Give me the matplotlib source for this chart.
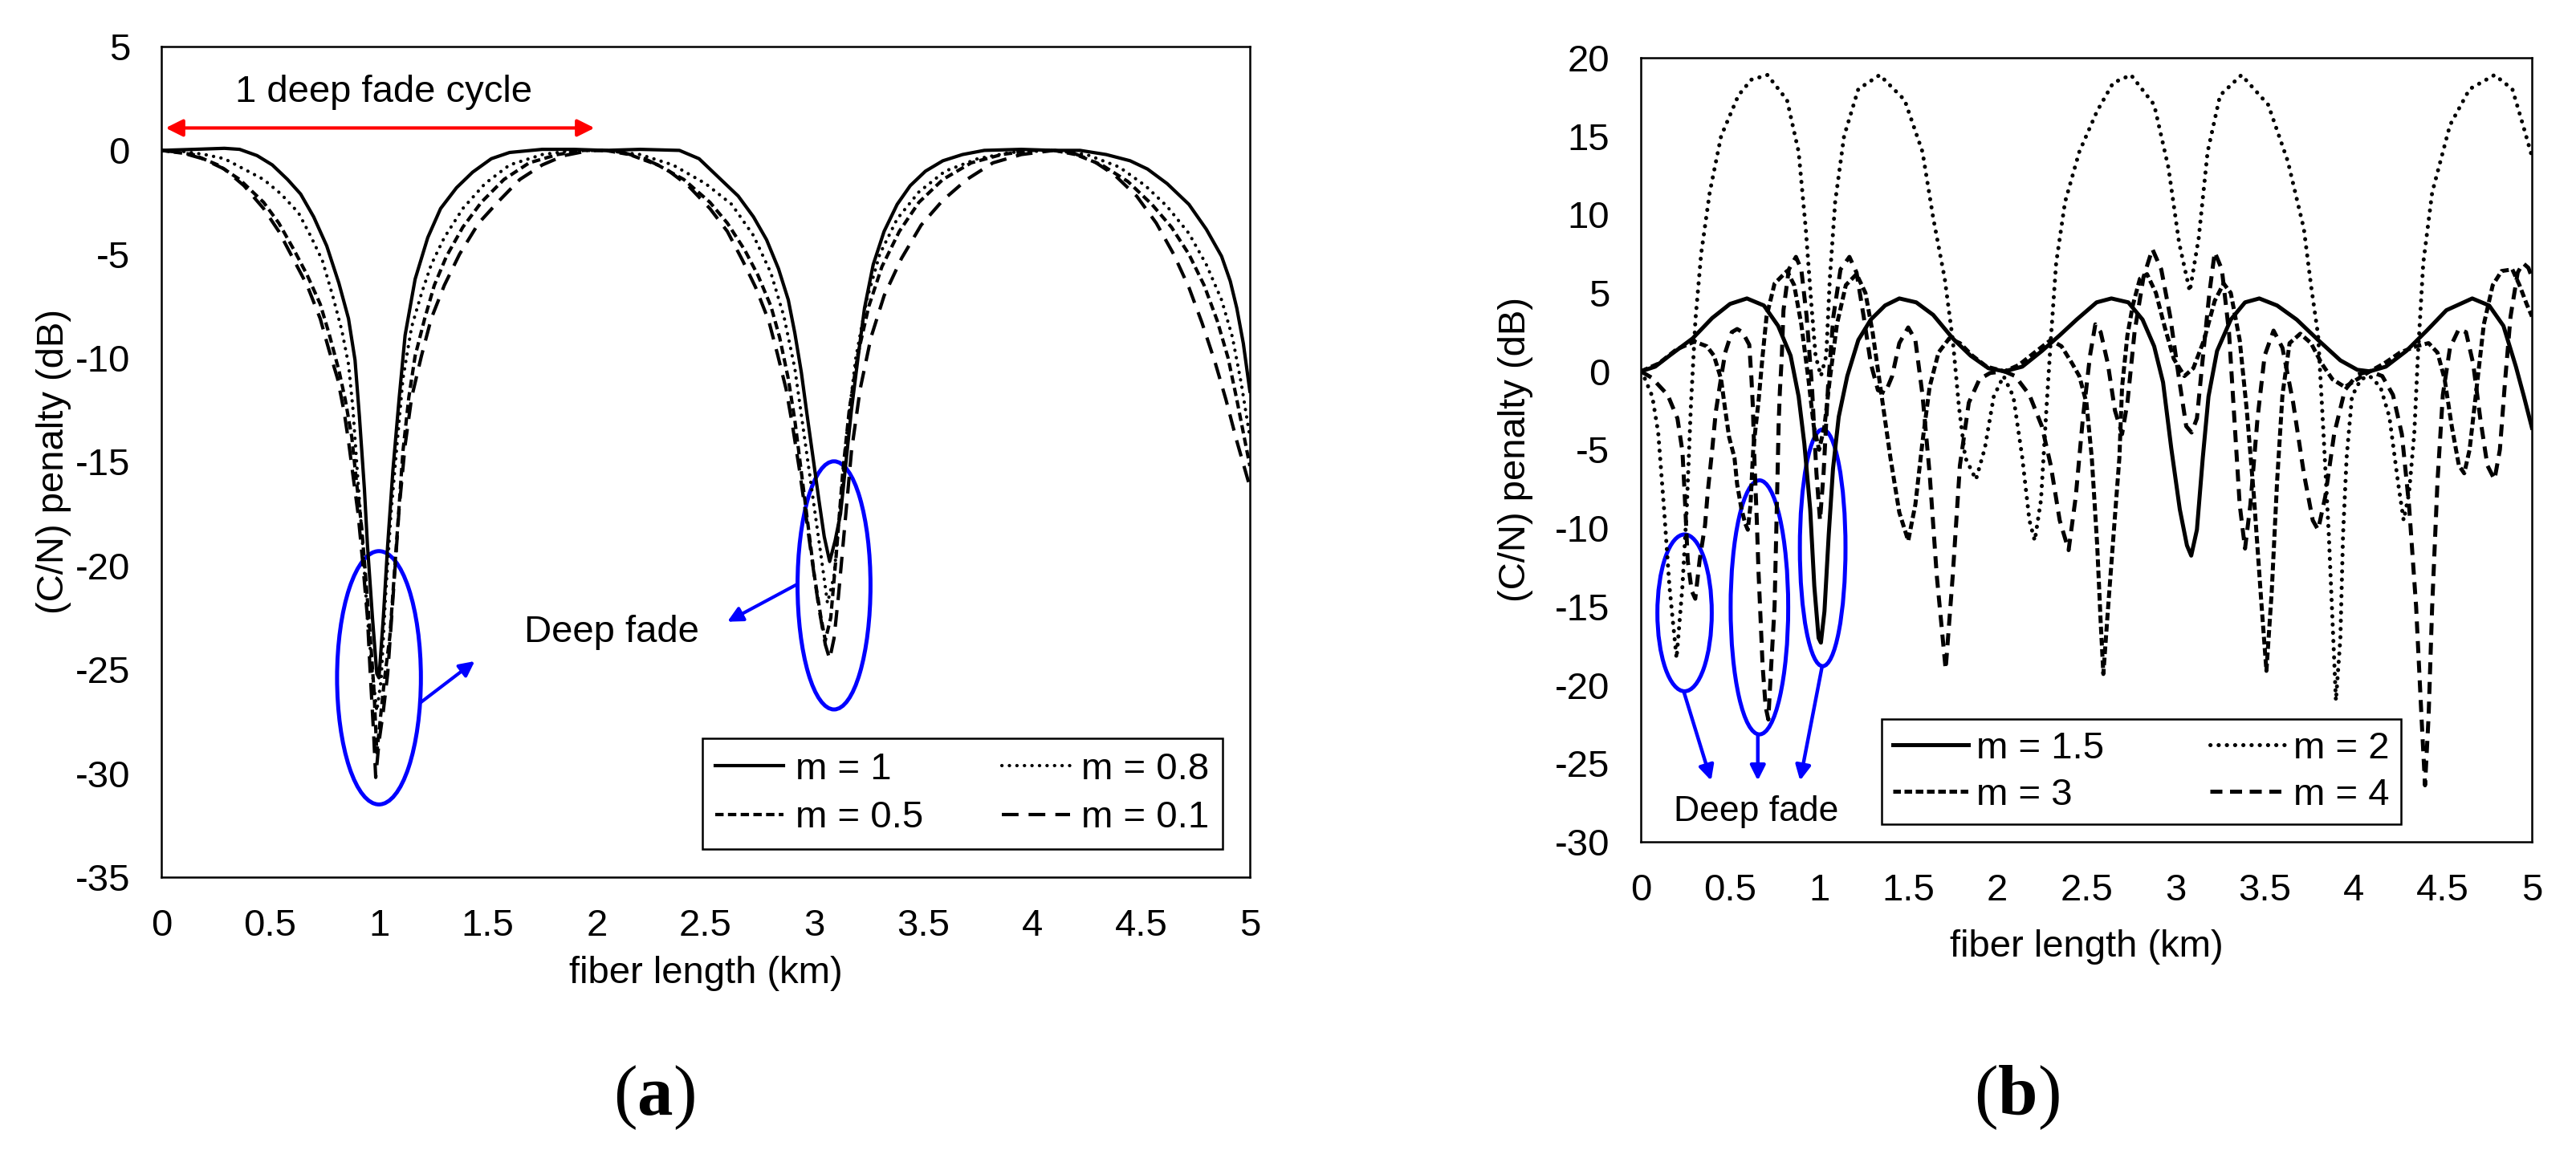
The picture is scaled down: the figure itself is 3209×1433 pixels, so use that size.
import numpy as np
import matplotlib.pyplot as plt
from matplotlib.patches import Ellipse
from matplotlib.ticker import MultipleLocator, FuncFormatter

plt.rcParams['font.family'] = ['Liberation Sans', 'DejaVu Sans']
plt.rcParams['axes.unicode_minus'] = False
plt.rcParams['mathtext.fontset'] = 'custom'
plt.rcParams['mathtext.rm'] = 'Liberation Serif'
plt.rcParams['mathtext.bf'] = 'Liberation Serif:bold'

## ---- panel (a): values ----
a_x_m1 = [0, 0.15, 0.29, 0.36, 0.44, 0.51, 0.58, 0.64, 0.70, 0.76, 0.816, 0.86, 0.89, 0.91, 0.933,
          0.947, 0.97, 0.99, 1.0, 1.02, 1.04, 1.064, 1.093, 1.12, 1.166, 1.224, 1.283, 1.356, 1.43,
          1.516, 1.60, 1.75, 1.895, 2.04, 2.2, 2.38, 2.47, 2.57, 2.65, 2.72, 2.78, 2.835, 2.88, 2.91,
          2.94, 2.967, 2.995, 3.02, 3.045, 3.07, 3.095, 3.12, 3.145, 3.17, 3.20, 3.23, 3.27, 3.32,
          3.38, 3.44, 3.51, 3.59, 3.68, 3.78, 3.95, 4.1, 4.22, 4.34, 4.45, 4.53, 4.62, 4.72, 4.80,
          4.87, 4.91, 4.94, 4.97, 5.0]
a_y_m1 = [0, 0.05, 0.1, 0.05, -0.25, -0.7, -1.4, -2.1, -3.2, -4.6, -6.4, -8.1, -10.1, -12.8, -16.3,
          -19.0, -22.5, -25.2, -25.4, -22.5, -19.0, -15.4, -11.9, -8.9, -6.2, -4.2, -2.8, -1.8, -1.05,
          -0.4, -0.1, 0.05, 0.05, 0, 0.05, 0, -0.4, -1.4, -2.2, -3.2, -4.3, -5.7, -7.2, -8.8,
          -10.7, -12.8, -14.9, -16.8, -18.6, -19.8, -18.8, -17.5, -15.0, -12.5, -10.0, -7.6, -5.5, -3.9,
          -2.6, -1.7, -1.0, -0.5, -0.2, 0.0, 0.05, 0.0, 0.0, -0.2, -0.5, -0.9, -1.6, -2.6, -3.8,
          -5.1, -6.3, -7.6, -9.3, -11.6]

a_x_m08 = [0, 0.1, 0.2, 0.29, 0.38, 0.47, 0.55, 0.63, 0.685, 0.74, 0.79, 0.83, 0.86, 0.88, 0.90,
           0.925, 0.947, 0.97, 0.99, 1.01, 1.03, 1.055, 1.08, 1.11, 1.15, 1.195, 1.24, 1.30, 1.385,
           1.487, 1.60, 1.75, 1.895, 2.04, 2.2, 2.35, 2.5, 2.62, 2.72, 2.80, 2.86, 2.91, 2.95, 2.99,
           3.03, 3.06, 3.09, 3.12, 3.15, 3.19, 3.24, 3.30, 3.38, 3.48, 3.60, 3.75, 3.90, 4.1, 4.25,
           4.40, 4.52, 4.62, 4.72, 4.80, 4.87, 4.92, 4.96, 5.0]
a_y_m08 = [0, -0.05, -0.2, -0.4, -0.9, -1.4, -2.1, -3.0, -4.1, -5.3, -7.1, -8.7, -10.3, -12.4, -15.4,
           -19.0, -22.5, -25.2, -27.0, -25.5, -21.5, -17.5, -14.5, -11.0, -8.5, -6.9, -5.5, -4.2, -2.8,
           -1.6, -0.7, -0.2, 0, 0, -0.2, -0.7, -1.6, -2.6, -4.1, -5.9, -8.0, -10.5, -13.5, -16.5,
           -19.5, -21.8, -20.5, -17.0, -13.5, -10.0, -7.2, -5.0, -3.3, -2.0, -1.0, -0.4, -0.1, 0, -0.2,
           -0.8, -1.7, -2.7, -4.0, -5.5, -7.2, -9.0, -11.2, -13.8]

a_x_m05 = [0, 0.146, 0.26, 0.36, 0.47, 0.54, 0.61, 0.67, 0.73, 0.77, 0.816, 0.845, 0.875, 0.896, 0.92,
           0.94, 0.96, 0.977, 0.99, 1.005, 1.025, 1.05, 1.08, 1.11, 1.137, 1.166, 1.21, 1.254, 1.31,
           1.385, 1.47, 1.574, 1.69, 1.82, 1.94, 2.04, 2.15, 2.28, 2.40, 2.52, 2.60, 2.68, 2.74, 2.80,
           2.84, 2.88, 2.91, 2.94, 2.97, 3.00, 3.03, 3.05, 3.075, 3.10, 3.13, 3.16, 3.20, 3.25, 3.31,
           3.39, 3.48, 3.59, 3.72, 3.86, 4.0, 4.1, 4.2, 4.32, 4.44, 4.55, 4.64, 4.72, 4.79, 4.85,
           4.90, 4.94, 4.97, 5.0]
a_y_m05 = [0, -0.2, -0.7, -1.4, -2.5, -3.5, -4.8, -6.0, -7.4, -8.8, -10.6, -12.0, -13.8, -15.9, -18.1,
           -20.7, -23.4, -26.0, -29.0, -27.5, -25.5, -23.4, -19.0, -14.5, -11.9, -9.9, -8.1, -6.5, -5.1,
           -3.7, -2.5, -1.4, -0.6, -0.2, 0, 0, -0.2, -0.7, -1.4, -2.5, -3.5, -4.8, -6.0, -7.5,
           -9.0, -11.0, -13.0, -15.5, -18.0, -20.5, -22.5, -23.6, -22.5, -19.5, -15.5, -12.5, -9.8, -7.5, -5.6,
           -3.9, -2.5, -1.4, -0.6, -0.2, 0, 0, -0.2, -0.7, -1.5, -2.6, -3.7, -5.0, -6.5, -8.2,
           -10.0, -12.0, -13.6, -15.2]

a_x_m01 = [0, 0.09, 0.19, 0.29, 0.38, 0.47, 0.54, 0.61, 0.67, 0.73, 0.77, 0.81, 0.84, 0.86, 0.88,
           0.904, 0.925, 0.947, 0.96, 0.975, 0.985, 1.0, 1.02, 1.04, 1.064, 1.093, 1.12, 1.15, 1.195,
           1.24, 1.30, 1.37, 1.458, 1.545, 1.647, 1.75, 1.85, 1.97, 2.04, 2.12, 2.22, 2.32, 2.42, 2.52,
           2.60, 2.67, 2.73, 2.79, 2.83, 2.87, 2.90, 2.93, 2.96, 2.99, 3.02, 3.05, 3.07, 3.09, 3.11,
           3.14, 3.17, 3.21, 3.26, 3.32, 3.40, 3.49, 3.59, 3.70, 3.82, 3.95, 4.1, 4.18, 4.28, 4.38,
           4.48, 4.57, 4.65, 4.72, 4.78, 4.84, 4.89, 4.94, 5.0]
a_y_m01 = [0, -0.1, -0.4, -0.9, -1.7, -2.8, -3.9, -5.3, -6.5, -8.1, -9.6, -11.0, -12.6, -14.0, -15.6,
           -17.5, -19.8, -22.5, -25.2, -28.0, -30.2, -28.5, -27.0, -25.2, -21.6, -17.2, -14.2, -11.9, -9.9,
           -8.1, -6.5, -5.0, -3.5, -2.5, -1.4, -0.7, -0.25, 0, 0, -0.1, -0.4, -0.9, -1.7, -2.8,
           -3.9, -5.3, -6.6, -8.2, -9.8, -11.5, -13.3, -15.3, -17.5, -19.8, -22.0, -23.8, -24.5, -23.5, -21.5,
           -18.0, -14.5, -11.5, -9.0, -7.0, -5.2, -3.6, -2.4, -1.4, -0.6, -0.2, 0, -0.1, -0.5, -1.2,
           -2.2, -3.5, -5.0, -6.6, -8.3, -10.2, -12.0, -14.0, -16.2]

## ---- panel (b) ----
b_x_m15 = [0, 0.08, 0.16, 0.29, 0.40, 0.50, 0.595, 0.69, 0.77, 0.84, 0.885, 0.917, 0.95, 0.973, 0.997,
           1.01, 1.03, 1.054, 1.078, 1.11, 1.158, 1.22, 1.29, 1.37, 1.45, 1.545, 1.64, 1.75, 1.85,
           1.95, 2.04, 2.14, 2.25, 2.35, 2.445, 2.557, 2.64, 2.735, 2.815, 2.88, 2.93, 2.976, 3.024,
           3.064, 3.088, 3.12, 3.153, 3.185, 3.233, 3.31, 3.39, 3.47, 3.57, 3.68, 3.80, 3.925, 4.02,
           4.09, 4.18, 4.295, 4.41, 4.52, 4.665, 4.76, 4.84, 4.91, 4.955, 5.0]
b_y_m15 = [0, 0.3, 1.0, 2.1, 3.4, 4.3, 4.65, 4.2, 2.9, 1.0, -1.6, -4.6, -8.8, -13.7, -17.0,
           -17.3, -15.3, -10.4, -6.2, -2.9, -0.3, 2.0, 3.3, 4.2, 4.65, 4.4, 3.6, 2.1, 1.0,
           0.2, 0, 0.3, 1.3, 2.3, 3.3, 4.4, 4.65, 4.4, 3.3, 1.6, -0.7, -4.9, -8.8,
           -11.1, -11.75, -10.1, -5.5, -1.6, 1.3, 3.3, 4.4, 4.65, 4.2, 3.3, 2.0, 0.7, 0.1,
           0, 0.3, 1.3, 2.6, 3.9, 4.65, 4.2, 2.9, 0.3, -1.6, -3.6]

b_x_m2 = [0, 0.016, 0.064, 0.097, 0.13, 0.16, 0.2, 0.233, 0.257, 0.28, 0.306, 0.338, 0.386, 0.45, 0.547,
          0.62, 0.71, 0.82, 0.885, 0.925, 0.957, 0.98, 1.01, 1.04, 1.06, 1.09, 1.14, 1.22, 1.34,
          1.48, 1.58, 1.64, 1.705, 1.75, 1.785, 1.82, 1.88, 1.93, 1.98, 2.035, 2.09, 2.14, 2.18,
          2.21, 2.245, 2.276, 2.30, 2.33, 2.38, 2.46, 2.56, 2.65, 2.75, 2.88, 2.96, 3.02, 3.08,
          3.13, 3.18, 3.25, 3.37, 3.52, 3.63, 3.72, 3.76, 3.80, 3.83, 3.86, 3.885, 3.90, 3.925,
          3.94, 3.96, 3.99, 4.04, 4.09, 4.15, 4.20, 4.25, 4.28, 4.31, 4.34, 4.36, 4.39, 4.44,
          4.54, 4.65, 4.79, 4.89, 4.95, 5.0]
b_y_m2 = [0, -0.3, -1.6, -3.9, -8.8, -13.7, -18.3, -13.7, -8.8, -2.3, 3.3, 7.5, 11.4, 15.0, 17.6,
          18.6, 18.9, 17.3, 14.0, 9.1, 4.2, 1.0, -0.3, 1.0, 5.9, 10.8, 15.0, 18.0, 18.9,
          17.3, 14.0, 9.8, 5.9, 2.0, -2.3, -5.5, -6.9, -4.9, -1.6, -0.3, -1.6, -5.5, -9.5,
          -10.8, -8.2, -2.3, 2.0, 6.9, 10.8, 14.0, 16.6, 18.4, 18.9, 17.0, 13.0, 8.2, 5.1,
          8.5, 14.0, 17.6, 18.9, 17.0, 13.4, 9.1, 5.5, 2.3, -3.9, -10.4, -17.0, -21.0, -17.0,
          -10.4, -5.5, -1.6, -0.5, -0.3, -1.0, -2.9, -7.2, -9.5, -7.8, -3.9, 1.0, 6.9, 11.4,
          15.7, 18.0, 18.9, 18.0, 15.7, 13.7]

b_x_m3 = [0, 0.1, 0.2, 0.30, 0.37, 0.41, 0.45, 0.47, 0.495, 0.525, 0.54, 0.563, 0.585, 0.60, 0.615,
          0.63, 0.66, 0.683, 0.705, 0.75, 0.82, 0.86, 0.90, 0.94, 0.97, 1.0, 1.03, 1.06, 1.10,
          1.15, 1.21, 1.26, 1.30, 1.35, 1.40, 1.45, 1.50, 1.54, 1.58, 1.62, 1.67, 1.73, 1.79,
          1.86, 1.94, 2.04, 2.12, 2.22, 2.30, 2.36, 2.42, 2.46, 2.50, 2.53, 2.56, 2.58, 2.595,
          2.62, 2.655, 2.685, 2.70, 2.73, 2.76, 2.80, 2.84, 2.89, 2.94, 2.99, 3.05, 3.10, 3.16,
          3.22, 3.27, 3.31, 3.36, 3.40, 3.44, 3.48, 3.51, 3.54, 3.57, 3.60, 3.64, 3.70, 3.76,
          3.82, 3.88, 3.95, 4.02, 4.09, 4.17, 4.26, 4.35, 4.42, 4.47, 4.51, 4.55, 4.59, 4.62,
          4.65, 4.69, 4.73, 4.78, 4.83, 4.89, 4.93, 4.97, 5.0]
b_y_m3 = [0, 0.5, 1.4, 1.9, 1.6, 1.0, -0.5, -2.2, -4.2, -5.5, -7.2, -8.7, -9.7, -10.1, -8.5,
          -5.0, -1.9, 1.0, 3.5, 5.6, 6.4, 5.5, 3.0, -0.5, -3.5, -5.0, -3.5, -0.5, 3.0,
          5.5, 6.2, 5.0, 2.5, -1.5, -5.5, -9.0, -10.8, -8.5, -4.5, -1.0, 1.2, 2.1, 1.8,
          1.0, 0.3, 0, 0.4, 1.3, 2.0, 1.6, 0.5, -0.3, -2.0, -5.5, -11.0, -16.0, -19.3,
          -15.3, -10.0, -5.5, -1.0, 2.3, 4.2, 5.9, 6.2, 5.0, 2.8, 0.8, -0.3, 0.2, 2.0,
          4.5, 5.6, 5.0, 2.0, -2.5, -8.0, -14.5, -19.1, -14.0, -7.0, -1.5, 1.8, 2.4, 1.8,
          0.5, -0.5, -1.0, -0.5, 0, 0.5, 1.2, 1.6, 1.8, 1.2, -0.5, -3.5, -6.0, -6.5,
          -5.0, -1.0, 3.0, 5.5, 6.4, 6.5, 5.5, 4.3, 3.5]

b_x_m4 = [0, 0.06, 0.15, 0.205, 0.233, 0.245, 0.263, 0.285, 0.305, 0.33, 0.36, 0.375, 0.40, 0.42, 0.443,
          0.473, 0.51, 0.54, 0.57, 0.608, 0.62, 0.628, 0.638, 0.65, 0.66, 0.67, 0.683, 0.70, 0.715,
          0.73, 0.75, 0.758, 0.766, 0.773, 0.78, 0.79, 0.80, 0.83, 0.87, 0.90, 0.93, 0.96, 0.985,
          1.005, 1.025, 1.05, 1.08, 1.12, 1.17, 1.21, 1.25, 1.29, 1.33, 1.37, 1.41, 1.45, 1.50,
          1.54, 1.58, 1.62, 1.66, 1.71, 1.75, 1.79, 1.84, 1.90, 1.96, 2.04, 2.10, 2.18, 2.25,
          2.30, 2.35, 2.40, 2.44, 2.48, 2.52, 2.55, 2.58, 2.62, 2.66, 2.70, 2.73, 2.77, 2.82,
          2.87, 2.92, 2.97, 3.02, 3.06, 3.09, 3.12, 3.15, 3.19, 3.22, 3.26, 3.30, 3.33, 3.36,
          3.39, 3.42, 3.46, 3.50, 3.55, 3.60, 3.66, 3.72, 3.77, 3.80, 3.84, 3.89, 3.95, 4.02,
          4.09, 4.16, 4.22, 4.27, 4.31, 4.35, 4.38, 4.40, 4.42, 4.44, 4.47, 4.50, 4.54, 4.59,
          4.63, 4.67, 4.71, 4.75, 4.79, 4.82, 4.85, 4.88, 4.92, 4.95, 4.98, 5.0]
b_y_m4 = [0, -0.4, -1.5, -3.0, -5.1, -7.7, -12.1, -14.0, -14.5, -12.0, -9.8, -7.7, -5.0, -2.6, -0.9,
          1.2, 2.5, 2.7, 2.5, 1.7, -0.4, -2.2, -6.0, -9.4, -12.8, -15.4, -18.8, -21.4, -22.2,
          -19.0, -15.0, -11.1, -7.0, -3.3, -1.2, 0.8, 3.9, 6.5, 7.3, 6.5, 3.5, -1.0, -6.5,
          -9.5, -6.5, -1.0, 3.5, 6.5, 7.3, 6.3, 3.5, 0.5, -1.2, -1.4, -0.3, 1.8, 2.8,
          2.0, -1.5, -6.5, -13.0, -19.0, -13.0, -6.0, -2.0, -0.5, -0.1, 0, -0.3, -1.5, -3.5,
          -6.0, -9.5, -11.4, -8.0, -3.0, 1.0, 3.0, 2.5, 0.5, -2.5, -4.0, -2.0, 2.5, 6.0,
          7.8, 6.5, 3.5, -0.5, -3.5, -3.9, -3.0, 0.5, 5.0, 7.6, 6.5, 2.5, -3.0, -8.5,
          -11.3, -8.5, -3.0, 1.0, 2.6, 1.5, -2.0, -6.5, -9.5, -10.1, -8.0, -4.0, -1.2, -0.2,
          0, -0.3, -1.5, -4.0, -8.5, -15.0, -22.0, -26.4, -22.0, -15.0, -7.0, -1.5, 1.5, 2.7,
          2.5, 0.5, -3.0, -6.0, -6.9, -5.0, -0.5, 3.5, 6.3, 6.9, 6.6, 6.0]

FS = 17


def style_axes(ax, ylo, yhi):
    ax.set_xlim(0, 5)
    ax.set_ylim(ylo, yhi)
    ax.xaxis.set_major_locator(MultipleLocator(0.5))
    ax.yaxis.set_major_locator(MultipleLocator(5))
    fmt = FuncFormatter(lambda v, p: '%g' % v)
    ax.xaxis.set_major_formatter(fmt)
    ax.yaxis.set_major_formatter(fmt)
    ax.tick_params(length=0, labelsize=FS, pad=14)
    for s in ax.spines.values():
        s.set_linewidth(0.9)


fig = plt.figure(figsize=(16.045, 7.165), dpi=200)
ax1 = fig.add_axes([0.0626, 0.2373, 0.4226, 0.7222])
ax2 = fig.add_axes([0.637, 0.268, 0.3459, 0.6818])

## panel (a)
lw = 1.5
h1, = ax1.plot(a_x_m1, a_y_m1, color='black', lw=lw)
h08, = ax1.plot(a_x_m08, a_y_m08, color='black', lw=lw, ls=(0, (0.05, 2.2)), dash_capstyle='round')
h05, = ax1.plot(a_x_m05, a_y_m05, color='black', lw=lw, ls=(0, (2.5, 1.3)))
h01, = ax1.plot(a_x_m01, a_y_m01, color='black', lw=lw, ls=(0, (5, 3)))
style_axes(ax1, -35, 5)
ax1.set_xlabel('fiber length (km)', fontsize=FS, va='center')
ax1.xaxis.set_label_coords(0.5, -0.116)
ax1.set_ylabel('(C/N) penalty (dB)', fontsize=FS, va='center')
ax1.yaxis.set_label_coords(-0.099, 0.5)

leg1 = ax1.legend([h1, h05, h08, h01], ['m = 1', 'm = 0.5', 'm = 0.8', 'm = 0.1'], ncol=2,
                  loc='lower left', bbox_to_anchor=(0.497, 0.034, 0.478, 0.113), mode='expand',
                  borderaxespad=0, fontsize=FS, fancybox=False, edgecolor='black', framealpha=1,
                  handlelength=1.8, handletextpad=0.3, labelspacing=0.35, borderpad=0.35,
                  columnspacing=1.5)
leg1.get_frame().set_linewidth(0.9)

ax1.annotate('', xy=(1.99, 1.08), xytext=(0.02, 1.08),
             arrowprops=dict(arrowstyle='<|-|>', color='red', lw=1.5, mutation_scale=16,
                             shrinkA=0, shrinkB=0))
ax1.text(1.02, 2.8, '1 deep fade cycle', fontsize=FS, ha='center', va='center')
ax1.add_patch(Ellipse((1.0, -25.4), 0.385, 12.2, fill=False, ec='blue', lw=1.8))
ax1.add_patch(Ellipse((3.09, -20.95), 0.335, 11.95, fill=False, ec='blue', lw=1.8))
ax1.annotate('', xy=(1.44, -24.6), xytext=(1.19, -26.6),
             arrowprops=dict(arrowstyle='-|>', color='blue', lw=1.5, mutation_scale=14,
                             shrinkA=0, shrinkB=0))
ax1.annotate('', xy=(2.60, -22.7), xytext=(2.92, -20.9),
             arrowprops=dict(arrowstyle='-|>', color='blue', lw=1.5, mutation_scale=14,
                             shrinkA=0, shrinkB=0))
ax1.text(2.07, -23.2, 'Deep fade', fontsize=FS, ha='center', va='center')

## panel (b)
lw2 = 1.8
g15, = ax2.plot(b_x_m15, b_y_m15, color='black', lw=lw2)
g2, = ax2.plot(b_x_m2, b_y_m2, color='black', lw=lw2, ls=(0, (0.05, 2.0)), dash_capstyle='round')
g3, = ax2.plot(b_x_m3, b_y_m3, color='black', lw=lw2, ls=(0, (1.9, 0.9)))
g4, = ax2.plot(b_x_m4, b_y_m4, color='black', lw=lw2, ls=(0, (3.0, 1.9)))
style_axes(ax2, -30, 20)
ax2.set_xlabel('fiber length (km)', fontsize=FS, va='center')
ax2.xaxis.set_label_coords(0.5, -0.134)
ax2.set_ylabel('(C/N) penalty (dB)', fontsize=FS, va='center')
ax2.yaxis.set_label_coords(-0.141, 0.5)

leg2 = ax2.legend([g15, g3, g2, g4], ['m = 1.5', 'm = 3', 'm = 2', 'm = 4'], ncol=2,
                  loc='lower left', bbox_to_anchor=(0.27, 0.0225, 0.583, 0.1025), mode='expand',
                  borderaxespad=0, fontsize=FS, fancybox=False, edgecolor='black', framealpha=1,
                  handlelength=2.0, handletextpad=0.2, labelspacing=0.3, borderpad=0.3,
                  columnspacing=1.5)
leg2.get_frame().set_linewidth(0.9)

for c, w, h in [((0.245, -15.4), 0.305, 10.0), ((0.665, -15.05), 0.323, 16.2),
                ((1.02, -11.25), 0.256, 15.1)]:
    ax2.add_patch(Ellipse(c, w, h, fill=False, ec='blue', lw=1.8))
for start, end in [((0.24, -20.4), (0.394, -26.1)), ((0.656, -23.2), (0.656, -26.1)),
                   ((1.017, -18.8), (0.893, -26.1))]:
    ax2.annotate('', xy=end, xytext=start,
                 arrowprops=dict(arrowstyle='-|>', color='blue', lw=1.6, mutation_scale=14,
                                 shrinkA=0, shrinkB=0))
ax2.text(0.645, -28.1, 'Deep fade', fontsize=FS - 1, ha='center', va='center')

fig.text(0.254, 0.046, r'($\mathbf{a}$)', fontsize=32, family='Liberation Serif',
         ha='center', va='center')
fig.text(0.783, 0.046, r'($\mathbf{b}$)', fontsize=32, family='Liberation Serif',
         ha='center', va='center')

fig.savefig('out.png', dpi=200)
